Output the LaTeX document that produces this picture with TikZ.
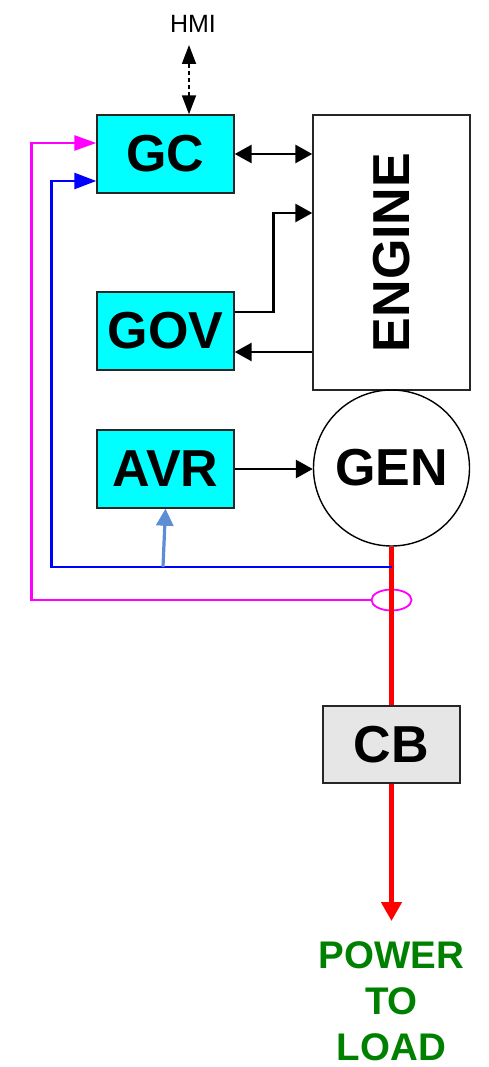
\documentclass[tikz,border=0pt]{standalone}
\usepackage{fontspec}
\setmainfont{Liberation Sans}
\usetikzlibrary{arrows.meta,shapes.geometric}
\definecolor{lblue}{HTML}{5B8ED5}
\definecolor{mag}{HTML}{FF00FF}
\definecolor{grn}{HTML}{008000}
\definecolor{cbgray}{HTML}{E6E6E6}
\definecolor{aqua}{HTML}{00FFFF}
\definecolor{pblue}{HTML}{0000FF}
\begin{document}
\begin{tikzpicture}[x=1pt,y=-1pt,
  big/.style={font=\fontsize{52}{54}\selectfont\bfseries},
  blk/.style={big, draw=black!85, line width=1.4pt, fill=aqua, minimum width=137pt, minimum height=78pt, inner sep=0pt},
  tipb/.tip={Triangle[length=17pt,width=18pt]},
  arr/.style={line width=2.8pt, -tipb},
  darr/.style={line width=2.8pt, tipb-tipb},
  sig/.style={line width=2.6pt}]
\useasboundingbox (0,0) rectangle (488,1067);
% blocks
\node[blk] (gc) at (165.5,154) {GC};
\node[blk] (gov) at (165.5,331) {GOV};
\node[blk] (avr) at (165.5,469) {AVR};
\node[draw=black!85, line width=1.4pt, minimum width=157pt, minimum height=275pt, inner sep=0pt] (eng) at (391.5,252.5) {};
\node[big, rotate=90] (engt) at (eng.center) {ENGINE};
\node[big, circle, draw=black, line width=1.4pt, minimum size=156pt, inner sep=0pt] (gen) at (391.5,468) {GEN};
\node[big, draw=black!85, line width=1.4pt, fill=cbgray, minimum width=137pt, minimum height=77pt, inner sep=0pt] (cb) at (391.5,744.5) {CB};
\node[font=\fontsize{25}{27}\selectfont] (hmi) at (193,24) {HMI};
\node[font=\fontsize{38.5}{46}\selectfont\bfseries, text=grn, align=center, inner sep=0pt] (load) at (391.5,1001) {POWER\\TO\\LOAD};
% HMI link
\coordinate (h) at (189,45);
\draw[line width=1.8pt, dash pattern=on 4pt off 3pt, {Triangle[length=19pt,width=14pt]}-{Triangle[length=19pt,width=14pt]}] (h) -- (h |- gc.north);
% GC <-> engine
\draw[darr] (gc.east) -- (gc.east -| eng.west);
% GOV -> engine
\coordinate (g1) at ([yshift=19pt]gov.east);
\coordinate (e1) at ([yshift=39.5pt]eng.west);
\draw[arr] (g1) -- ++(39,0) |- (e1);
% engine -> GOV
\coordinate (g2) at ([yshift=-21pt]gov.east);
\draw[arr] (g2 -| eng.west) -- (g2);
% AVR -> GEN
\draw[arr] (avr.east) -- (avr.east -| gen.west);
% current transformer
\node[ellipse, draw=mag, line width=1.8pt, minimum width=40pt, minimum height=21pt, inner sep=0pt] (ct) at (391.5,600) {};
% power line
\coordinate (tip) at (391.5,921);
\draw[red, line width=4.5pt] (gen.south) -- (cb.north);
\draw[red, line width=4.5pt, -{Triangle[length=19pt,width=20pt]}] (cb.south) -- (tip);
% voltage sensing (blue)
\coordinate (bj) at (391.5,567);
\coordinate (gcb) at ([yshift=-27pt]gc.west);
\draw[sig, pblue, -{Triangle[length=22pt,width=16pt]}] (bj) -| ([xshift=-45pt]gcb) -- (gcb);
\coordinate (ab) at (163,567);
\draw[lblue, line width=3.2pt, -{Triangle[length=17pt,width=17pt]}] (ab) -- (avr.south);
% current sensing (magenta)
\coordinate (gcm) at ([yshift=11pt]gc.west);
\draw[sig, mag, -{Triangle[length=22pt,width=15pt]}] (ct.west) -| ([xshift=-65pt]gcm) -- (gcm);
\end{tikzpicture}
\end{document}
